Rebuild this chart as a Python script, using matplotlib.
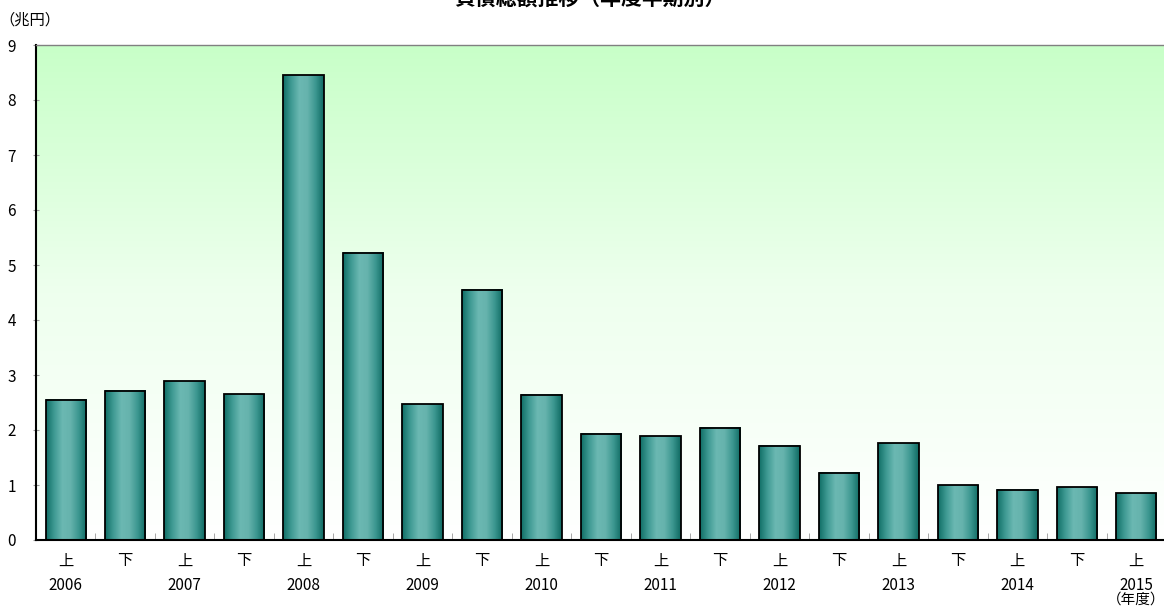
import matplotlib.pyplot as plt
import numpy as np
from matplotlib.colors import LinearSegmentedColormap

plt.rcParams['font.family'] = ['Noto Sans CJK JP', 'DejaVu Sans']

halves = ['上', '下'] * 9 + ['上']
years = ['2006', '', '2007', '', '2008', '', '2009', '', '2010', '',
         '2011', '', '2012', '', '2013', '', '2014', '', '2015']
debt = [2.55, 2.71, 2.89, 2.65, 8.45, 5.22, 2.47, 4.55, 2.64, 1.93,
        1.89, 2.04, 1.71, 1.22, 1.76, 1.00, 0.91, 0.96, 0.85]


def plot_chart():
    fig = plt.figure(figsize=(11.64, 6.15), dpi=100)
    ax = fig.add_axes([36 / 1164, 75 / 615, 1130 / 1164, 495 / 615])

    x = np.arange(len(debt))

    # background: pale green at top fading to white
    bg = LinearSegmentedColormap.from_list('bg', ['#ffffff', '#eeffee', '#c8ffc8'])
    grad = np.linspace(0, 1, 256).reshape(-1, 1)
    ax.imshow(grad, cmap=bg, aspect='auto', origin='lower',
              extent=[-0.5, len(debt) - 0.5, 0, 9], zorder=0)

    bars = ax.bar(x, debt, width=0.68, color='none', edgecolor='black',
                  linewidth=1.3, zorder=3)

    # horizontal teal gradient inside each bar
    teal = LinearSegmentedColormap.from_list(
        'teal', ['#106e66', '#3f9a93', '#6bb8b2', '#66b3ad', '#3c9790', '#0f6a62'])
    hgrad = np.linspace(0, 1, 128).reshape(1, -1)
    for b in bars:
        x0, w, h = b.get_x(), b.get_width(), b.get_height()
        ax.imshow(hgrad, cmap=teal, aspect='auto',
                  extent=[x0, x0 + w, 0, h], zorder=2)
    ax.set_xlim(-0.5, len(debt) - 0.5)
    ax.set_ylim(0, 9)

    ax.spines['right'].set_visible(False)
    ax.spines['top'].set_color('#808080')
    ax.spines['top'].set_linewidth(1.0)
    ax.spines['left'].set_linewidth(1.5)
    ax.spines['bottom'].set_linewidth(1.5)

    ax.set_yticks(range(10))
    ax.tick_params(axis='y', direction='inout', length=5, color='#999999',
                   labelsize=11, pad=12)

    labels = [h + ('\n' + y if y else '') for h, y in zip(halves, years)]
    ax.set_xticks(x)
    ax.set_xticklabels(labels, fontsize=11, linespacing=1.6)
    ax.tick_params(axis='x', length=0, pad=9)
    ax.set_xticks(np.arange(0.5, len(debt) - 0.5), minor=True)
    ax.tick_params(axis='x', which='minor', direction='in', length=5,
                   color='#999999')

    fig.text(30 / 1164, 1 - 20 / 615, '（兆円）', fontsize=11,
             ha='center', va='center')
    fig.text(1136 / 1164, 1 - 600 / 615, '（年度）', fontsize=10.5,
             ha='center', va='center')
    fig.text(590 / 1164, 1 + 2 / 615, '負債総額推移（年度半期別）',
             fontsize=15, fontweight='bold', ha='center', va='center')

    fig.savefig('out.png', dpi=100)


if __name__ == '__main__':
    plot_chart()
